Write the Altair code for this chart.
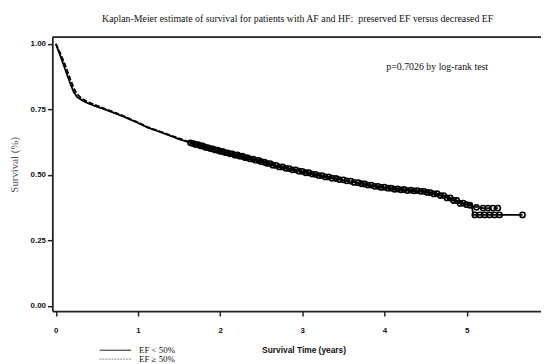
import altair as alt
import pandas as pd

# ---- data ----
solid_t = [0, 0.03, 0.06, 0.10, 0.14, 0.18, 0.22, 0.26, 0.32, 0.40, 0.50, 0.60, 0.72, 0.84,
           1.00, 1.12, 1.30, 1.50, 1.64, 1.80, 2.00, 2.12, 2.30, 2.50, 2.72, 2.90, 3.20,
           3.40, 3.72, 3.88, 4.12, 4.30, 4.48, 4.70, 4.96, 5.06, 5.08, 5.40, 5.68]
solid_s = [1.0, 0.975, 0.95, 0.915, 0.88, 0.845, 0.815, 0.797, 0.784, 0.772, 0.76, 0.749, 0.735, 0.72,
           0.698, 0.68, 0.66, 0.636, 0.622, 0.607, 0.59, 0.58, 0.566, 0.55, 0.53, 0.518, 0.497,
           0.485, 0.466, 0.456, 0.445, 0.440, 0.436, 0.420, 0.386, 0.386, 0.347, 0.347, 0.347]

dash_t = [0, 0.03, 0.06, 0.10, 0.14, 0.18, 0.22, 0.26, 0.32, 0.40, 0.50, 0.60, 0.72, 0.84,
          1.00, 1.12, 1.30, 1.50, 1.64, 1.80, 2.00, 2.12, 2.30, 2.50, 2.72, 2.90, 3.20,
          3.40, 3.72, 3.88, 4.12, 4.30, 4.48, 4.70, 4.96, 5.08, 5.20, 5.38]
dash_s = [1.0, 0.98, 0.96, 0.93, 0.897, 0.862, 0.83, 0.808, 0.79, 0.777, 0.764, 0.752, 0.738, 0.722,
          0.70, 0.682, 0.662, 0.639, 0.624, 0.609, 0.592, 0.582, 0.568, 0.552, 0.532, 0.520, 0.499,
          0.487, 0.468, 0.458, 0.447, 0.442, 0.437, 0.424, 0.392, 0.380, 0.373, 0.373]

cens_solid_t = [1.64, 1.70, 1.76, 1.82, 1.88, 1.94, 2.00, 2.06, 2.12, 2.18, 2.24, 2.30, 2.36, 2.43,
                2.50, 2.57, 2.64, 2.72, 2.80, 2.88, 2.96, 3.04, 3.12, 3.20, 3.28, 3.36, 3.45, 3.54,
                3.63, 3.72, 3.80, 3.88, 3.96, 4.04, 4.12, 4.20, 4.28, 4.36, 4.44, 4.52, 4.60, 4.68,
                4.76, 4.84, 4.92, 5.00, 5.10, 5.16, 5.22, 5.28, 5.34, 5.40, 5.68]
cens_solid_s = [0.622, 0.616, 0.611, 0.605, 0.600, 0.595, 0.590, 0.585, 0.580, 0.575, 0.571, 0.566, 0.561, 0.556,
                0.550, 0.544, 0.537, 0.530, 0.525, 0.519, 0.514, 0.508, 0.503, 0.497, 0.492, 0.487, 0.482, 0.477,
                0.471, 0.466, 0.461, 0.456, 0.452, 0.449, 0.445, 0.443, 0.440, 0.439, 0.437, 0.433, 0.427, 0.421,
                0.412, 0.402, 0.391, 0.386, 0.347, 0.347, 0.347, 0.347, 0.347, 0.347, 0.347]

cens_dash_t = [1.67, 1.73, 1.79, 1.85, 1.91, 1.97, 2.03, 2.09, 2.15, 2.21, 2.27, 2.33, 2.40, 2.47,
               2.54, 2.61, 2.68, 2.76, 2.84, 2.92, 3.00, 3.08, 3.16, 3.24, 3.32, 3.41, 3.50, 3.59,
               3.68, 3.76, 3.84, 3.92, 4.00, 4.08, 4.16, 4.24, 4.32, 4.40, 4.48, 4.56, 4.64, 4.72,
               4.80, 4.88, 4.96, 5.04, 5.12, 5.20, 5.26, 5.32, 5.38]
cens_dash_s = [0.620, 0.615, 0.610, 0.604, 0.599, 0.594, 0.589, 0.584, 0.580, 0.576, 0.571, 0.566, 0.560, 0.555,
               0.548, 0.543, 0.536, 0.530, 0.524, 0.519, 0.513, 0.508, 0.502, 0.497, 0.492, 0.486, 0.481, 0.476,
               0.470, 0.465, 0.461, 0.456, 0.453, 0.449, 0.446, 0.444, 0.442, 0.440, 0.437, 0.432, 0.428, 0.421,
               0.412, 0.402, 0.392, 0.384, 0.376, 0.373, 0.373, 0.373, 0.373]

series_names = ["EF < 50%", "EF \u2265 50%"]
x_ticks = [0, 1, 2, 3, 4, 5]
y_ticks = [0, 0.25, 0.5, 0.75, 1.0]
title_text = "Kaplan-Meier estimate of survival for patients with AF and HF:\u00a0 preserved EF versus decreased EF"
pval_text = "p=0.7026 by log-rank test"

W, H = 496, 278

curves = pd.concat([
    pd.DataFrame({"t": solid_t, "s": solid_s, "g": series_names[0], "o": range(len(solid_t))}),
    pd.DataFrame({"t": dash_t, "s": dash_s, "g": series_names[1], "o": range(len(dash_t))}),
])
cens = pd.concat([
    pd.DataFrame({"t": cens_solid_t, "s": cens_solid_s, "g": series_names[0]}),
    pd.DataFrame({"t": cens_dash_t, "s": cens_dash_s, "g": series_names[1]}),
])

xs = alt.Scale(domain=[-0.042, 5.905], nice=False, zero=False)
ys = alt.Scale(domain=[-0.02, 1.025], nice=False, zero=False)

xaxis = alt.Axis(values=x_ticks, format="d", title="Survival Time (years)", grid=False,
                 labelFont="Liberation Sans", labelFontWeight="bold", labelFontSize=8, labelColor="#111",
                 tickSize=5, tickWidth=1.5, tickColor="#222", domainColor="#222", domainWidth=1.8,
                 labelPadding=11,
                 titleFont="Liberation Sans", titleFontWeight="bold", titleFontSize=8.5, titleColor="#111",
                 titleX=255, titleY=39, titleBaseline="middle", titleAlign="center")
yaxis = alt.Axis(values=y_ticks, format=".2f", title="Survival (%)", grid=False,
                 labelFont="Liberation Sans", labelFontWeight="bold", labelFontSize=8, labelColor="#111",
                 tickSize=5, tickWidth=1.5, tickColor="#222", domainColor="#222", domainWidth=1.8,
                 labelPadding=2,
                 titleFont="Liberation Serif", titleFontWeight="normal", titleFontSize=11, titleColor="#555",
                 titleX=-38, titleY=129, titleBaseline="middle", titleAlign="center", titleAngle=270)

dash_scale = alt.Scale(domain=series_names, range=[[1, 0], [5, 2]])

lines = alt.Chart(curves).mark_line(color="black", strokeWidth=1.8).encode(
    x=alt.X("t:Q", scale=xs, axis=xaxis),
    y=alt.Y("s:Q", scale=ys, axis=yaxis),
    strokeDash=alt.StrokeDash("g:N", scale=dash_scale, legend=None),
    detail="g:N",
    order="o:Q",
)

points = alt.Chart(cens).mark_point(shape="circle", filled=False, color="black", size=28,
                                    strokeWidth=1.6, opacity=1).encode(
    x=alt.X("t:Q", scale=xs),
    y=alt.Y("s:Q", scale=ys),
)

top_line = alt.Chart(pd.DataFrame({"a": [0]})).mark_rule(color="#222", strokeWidth=1.8).encode(
    x=alt.value(0), x2=alt.value(W), y=alt.value(0))

title = alt.Chart(pd.DataFrame({"txt": [title_text]})).mark_text(
    font="Liberation Serif", fontSize=10, color="#111", align="center", baseline="middle").encode(
    x=alt.value(249), y=alt.value(-18.5), text="txt:N")

pval = alt.Chart(pd.DataFrame({"txt": [pval_text]})).mark_text(
    font="Liberation Serif", fontSize=10, color="#111", align="left", baseline="middle").encode(
    x=alt.value(339), y=alt.value(30), text="txt:N")

leg = pd.DataFrame({"g": series_names, "yy": [317.7, 326.7]})
leg_lines = alt.Chart(leg).mark_rule(strokeWidth=1).encode(
    x=alt.value(48), x2=alt.value(80), y=alt.Y("yy:Q", scale=None),
    color=alt.Color("g:N", scale=alt.Scale(domain=series_names, range=["#000", "#888"]), legend=None),
    strokeDash=alt.StrokeDash("g:N", scale=alt.Scale(domain=series_names, range=[[1, 0], [2, 1]]), legend=None),
)
leg_text = alt.Chart(leg).mark_text(font="Liberation Serif", fontSize=9, color="#111",
                                    align="left", baseline="middle").encode(
    x=alt.value(88), y=alt.Y("yy:Q", scale=None), text="g:N")

chart = alt.layer(top_line, lines, points, title, pval, leg_lines, leg_text).resolve_scale(
    color="independent", strokeDash="independent"
).properties(
    width=W, height=H,
    autosize=alt.AutoSizeParams(type="none"),
    padding={"left": 45, "top": 27, "right": 0, "bottom": 51},
    background="white",
).configure_view(stroke=None)

chart.save("out.html", embed_options={"renderer": "svg", "actions": False})
